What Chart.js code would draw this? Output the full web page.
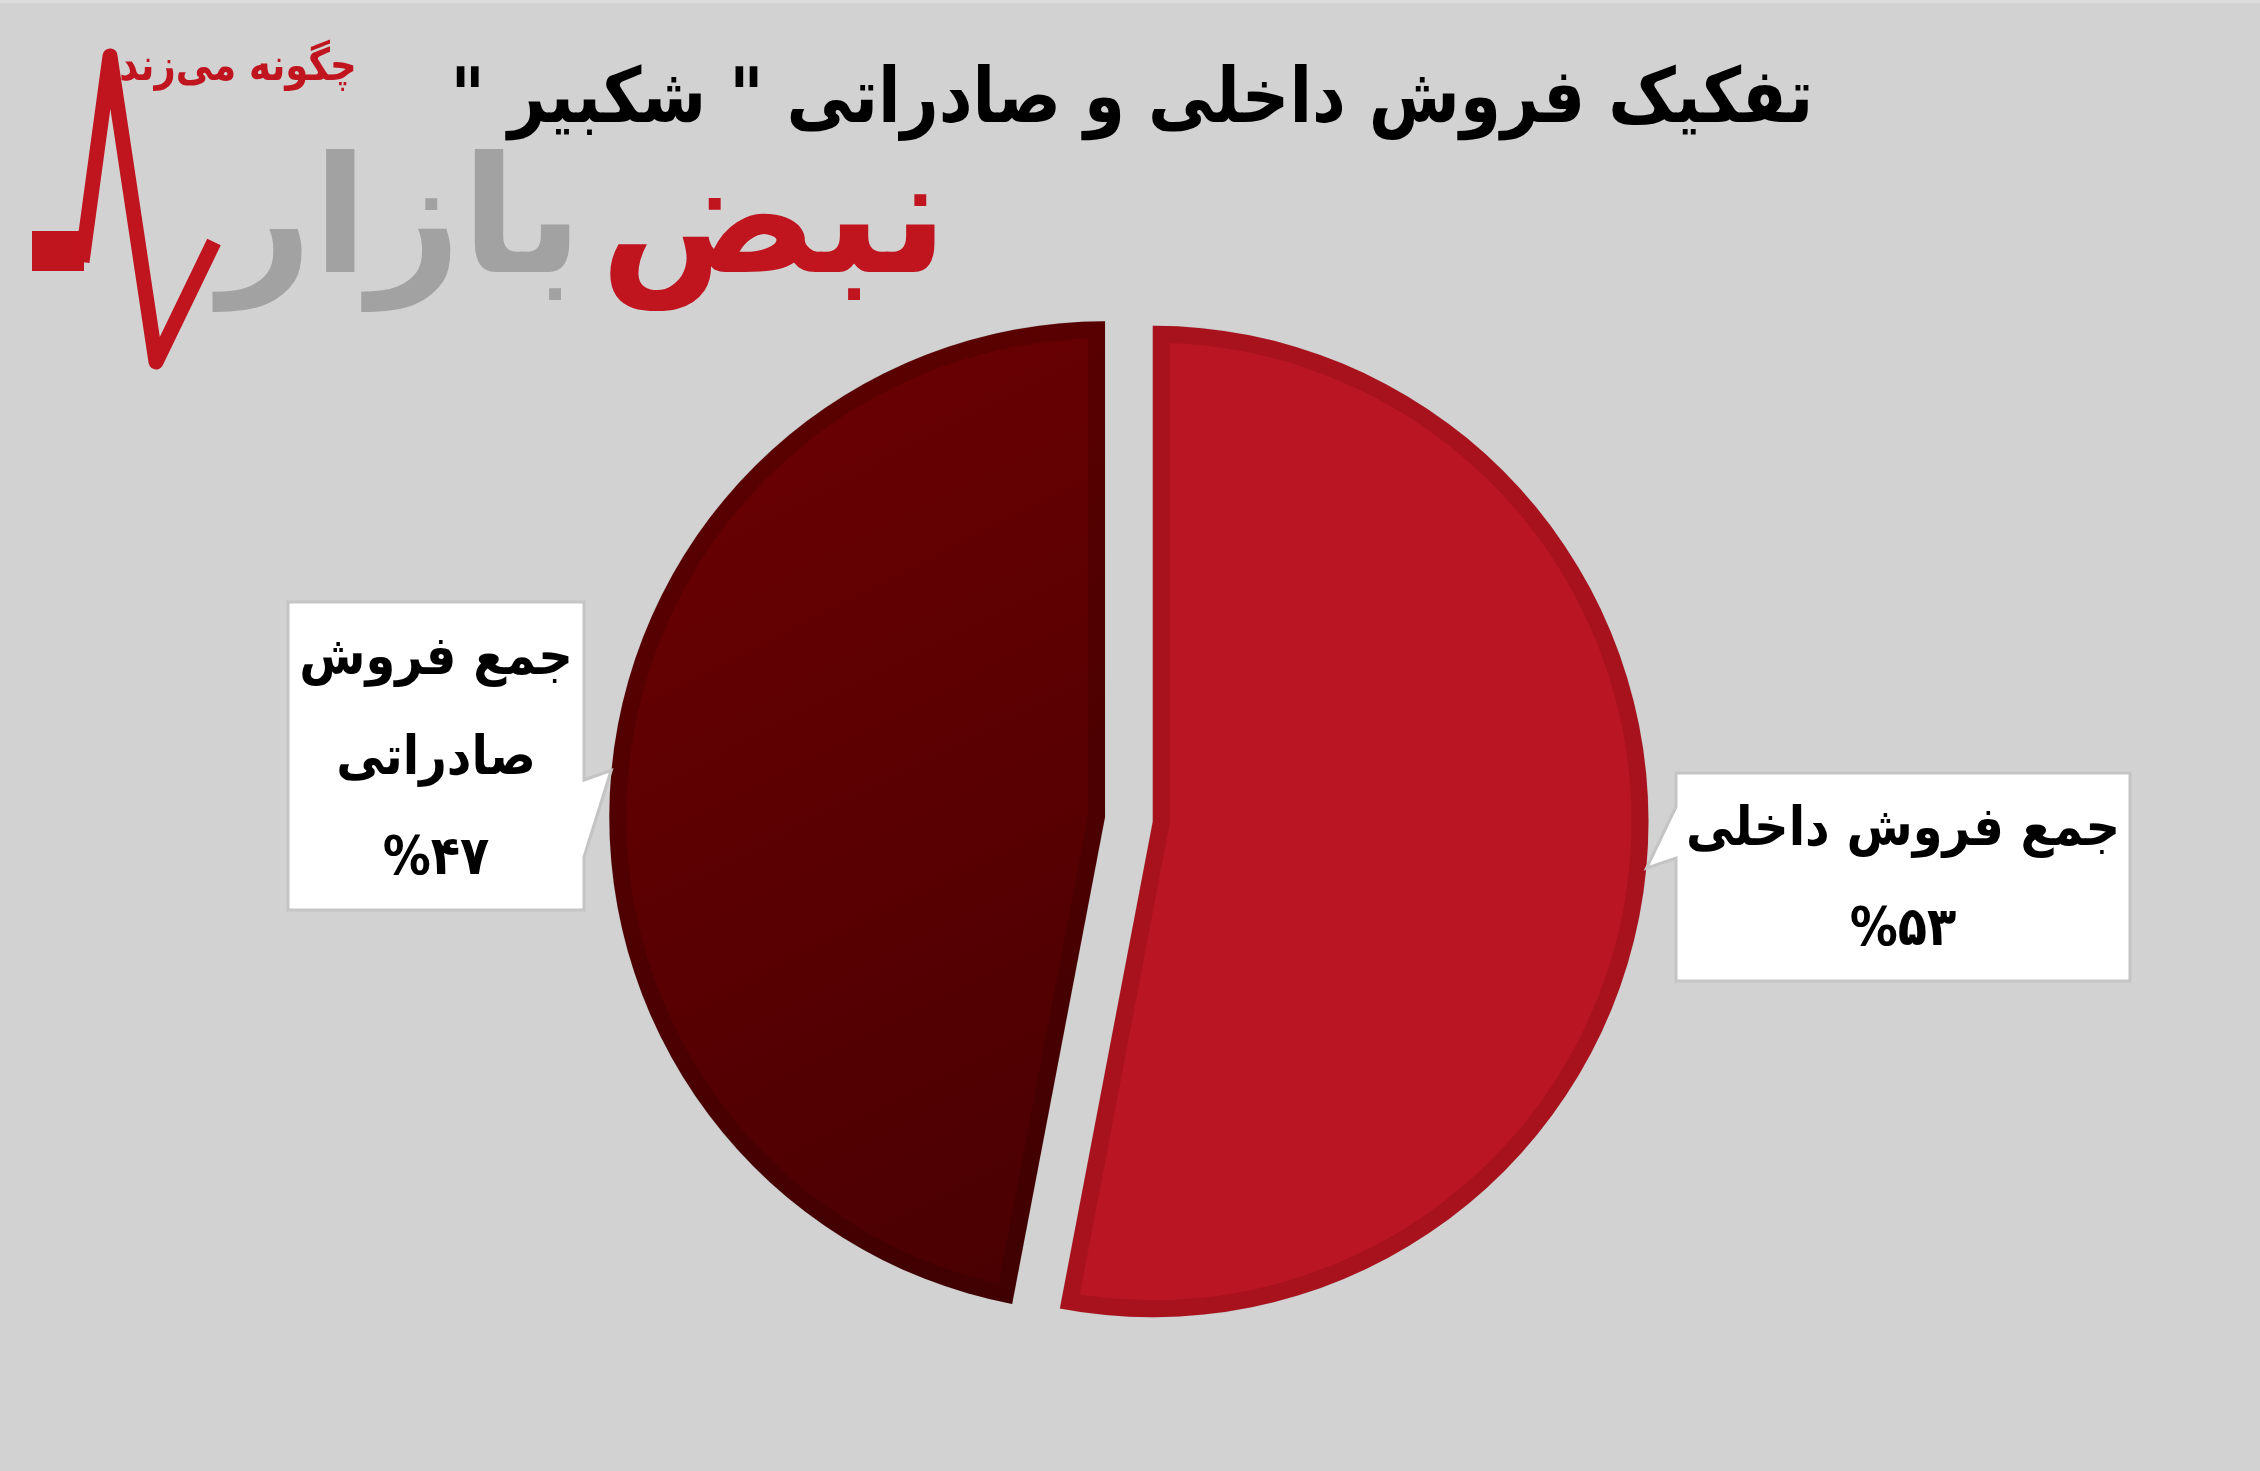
<!DOCTYPE html>
<html>
<head>
<meta charset="utf-8">
<script src="https://cdn.jsdelivr.net/npm/chart.js@4.4.1/dist/chart.umd.min.js"></script>
<style>
  html, body { margin: 0; padding: 0; background: #d2d2d2; }
  #wrap { position: relative; width: 2260px; height: 1471px; }
</style>
</head>
<body>
<div id="wrap"><canvas id="chart" width="2260" height="1471"></canvas></div>
<script>
// data
var titleText = 'تفکیک فروش داخلی و صادراتی " شکبیر "';
var categories = ['جمع فروش داخلی', 'جمع فروش صادراتی'];
var shares = [53, 47];
var logoWords = ['نبض', 'بازار'];
var logoSlogan = 'چگونه می‌زند';

// styles
var FONT = '"DejaVu Sans", sans-serif';
var sliceBorders = ['rgba(70,0,0,0.14)', 'rgba(20,0,0,0.16)'];
var explode = [48, 0];
var boxes = [
  { x: 1676, y: 773, w: 454, h: 208, edge: 'left', p1: 807, p2: 858, maxW: 440 },
  { x: 288, y: 602, w: 296, h: 308, edge: 'right', p1: 780, p2: 857, maxW: 285 }
];

function fa(n) {
  return String(n).replace(/\d/g, function (d) { return '۰۱۲۳۴۵۶۷۸۹'[d]; });
}

function sliceFill(c) {
  if (c.dataIndex === 0) return '#b91522';
  var g = c.chart.ctx.createLinearGradient(600, 320, 1110, 1320);
  g.addColorStop(0, '#6e0002');
  g.addColorStop(1, '#470002');
  return g;
}

function wrapLines(ctx, text, maxW) {
  var words = text.split(' ');
  var lines = [];
  var cur = '';
  words.forEach(function (w) {
    var test = cur ? cur + ' ' + w : w;
    if (cur && ctx.measureText(test).width > maxW) {
      lines.push(cur);
      cur = w;
    } else {
      cur = test;
    }
  });
  if (cur) lines.push(cur);
  return lines;
}

// taller glyphs, like the original font
function tallText(ctx, text, x, y, sy) {
  ctx.save();
  ctx.translate(x, y);
  ctx.scale(1, sy);
  ctx.fillText(text, 0, 0);
  ctx.restore();
}

function drawLogo(ctx) {
  ctx.save();
  var red = '#c0141f';
  var gray = '#a2a2a2';
  // heartbeat
  ctx.fillStyle = red;
  ctx.fillRect(32, 231, 52, 40);
  ctx.strokeStyle = red;
  ctx.lineWidth = 15;
  ctx.lineJoin = 'round';
  ctx.beginPath();
  ctx.moveTo(82, 262);
  ctx.lineTo(110, 56);
  ctx.lineTo(156, 362);
  ctx.lineTo(214, 242);
  ctx.stroke();
  // words
  ctx.direction = 'rtl';
  ctx.textAlign = 'right';
  ctx.textBaseline = 'alphabetic';
  ctx.font = 'bold 190px ' + FONT;
  var w0 = ctx.measureText(logoWords[0]).width;
  var w1 = ctx.measureText(logoWords[1]).width;
  var sc = 730 / (w0 + w1 + 20);
  ctx.font = 'bold ' + Math.round(190 * sc) + 'px ' + FONT;
  w0 = ctx.measureText(logoWords[0]).width;
  ctx.fillStyle = gray;
  tallText(ctx, logoWords[1], 948 - w0 - 20 * sc, 272, 1.0);
  ctx.fillStyle = red;
  tallText(ctx, logoWords[0], 948, 272, 1.0);
  // slogan
  ctx.fillStyle = red;
  ctx.textAlign = 'center';
  ctx.font = 'bold 37px ' + FONT;
  tallText(ctx, logoSlogan, 238, 80, 1.2);
  ctx.restore();
}

var decor = {
  id: 'decor',
  afterDatasetUpdate: function (chart, args) {
    // pull slices out along their mid angle
    var meta = chart.getDatasetMeta(args.index);
    meta.data.forEach(function (arc, i) {
      var d = explode[i] || 0;
      if (!d) return;
      var mid = (arc.startAngle + arc.endAngle) / 2;
      arc.x += Math.cos(mid) * d;
      arc.y += Math.sin(mid) * d;
    });
  },
  beforeDraw: function (chart) {
    var ctx = chart.ctx;
    ctx.save();
    ctx.fillStyle = '#d2d2d2';
    ctx.fillRect(0, 0, chart.width, chart.height);
    ctx.fillStyle = '#dcdcdc';
    ctx.fillRect(0, 0, chart.width, 3);
    ctx.restore();
    drawLogo(ctx);
  },
  afterDraw: function (chart) {
    var ctx = chart.ctx;
    ctx.save();
    // title
    ctx.direction = 'rtl';
    ctx.textAlign = 'center';
    ctx.textBaseline = 'alphabetic';
    ctx.fillStyle = '#000';
    ctx.font = 'bold 66px ' + FONT;
    tallText(ctx, titleText, 1132, 122, 1.15);

    // callouts
    var meta = chart.getDatasetMeta(0);
    meta.data.forEach(function (arc, i) {
      var b = boxes[i];
      var mid = (arc.startAngle + arc.endAngle) / 2;
      var r = arc.outerRadius;
      var tx = arc.x + Math.cos(mid) * r;
      var ty = arc.y + Math.sin(mid) * r;
      ctx.beginPath();
      if (b.edge === 'left') {
        ctx.moveTo(b.x, b.y);
        ctx.lineTo(b.x + b.w, b.y);
        ctx.lineTo(b.x + b.w, b.y + b.h);
        ctx.lineTo(b.x, b.y + b.h);
        ctx.lineTo(b.x, b.p2);
        ctx.lineTo(tx, ty);
        ctx.lineTo(b.x, b.p1);
      } else {
        ctx.moveTo(b.x, b.y);
        ctx.lineTo(b.x + b.w, b.y);
        ctx.lineTo(b.x + b.w, b.p1);
        ctx.lineTo(tx, ty);
        ctx.lineTo(b.x + b.w, b.p2);
        ctx.lineTo(b.x + b.w, b.y + b.h);
        ctx.lineTo(b.x, b.y + b.h);
      }
      ctx.closePath();
      ctx.fillStyle = '#ffffff';
      ctx.fill();
      ctx.lineWidth = 3;
      ctx.strokeStyle = '#c4c4c4';
      ctx.stroke();

      ctx.fillStyle = '#000';
      ctx.font = 'bold 48px ' + FONT;
      var lines = wrapLines(ctx, chart.data.labels[i], b.maxW);
      lines.push('%' + fa(chart.data.datasets[0].data[i]));
      var lh = 100;
      var cx = b.x + b.w / 2;
      var cy = b.y + b.h / 2 + 18;
      lines.forEach(function (t, k) {
        tallText(ctx, t, cx, cy + (k - (lines.length - 1) / 2) * lh, 1.12);
      });
    });
    ctx.restore();
  }
};

var chart = new Chart(document.getElementById('chart'), {
  type: 'pie',
  data: {
    labels: categories,
    datasets: [{
      data: shares,
      backgroundColor: sliceFill,
      borderColor: sliceBorders,
      borderWidth: 17,
      borderAlign: 'inner'
    }]
  },
  options: {
    responsive: false,
    animation: false,
    radius: 496,
    layout: { padding: { left: 0, right: 50, top: 163, bottom: 0 } },
    plugins: {
      legend: { display: false },
      tooltip: { enabled: false },
      title: { display: false }
    }
  },
  plugins: [decor]
});
</script>
</body>
</html>
